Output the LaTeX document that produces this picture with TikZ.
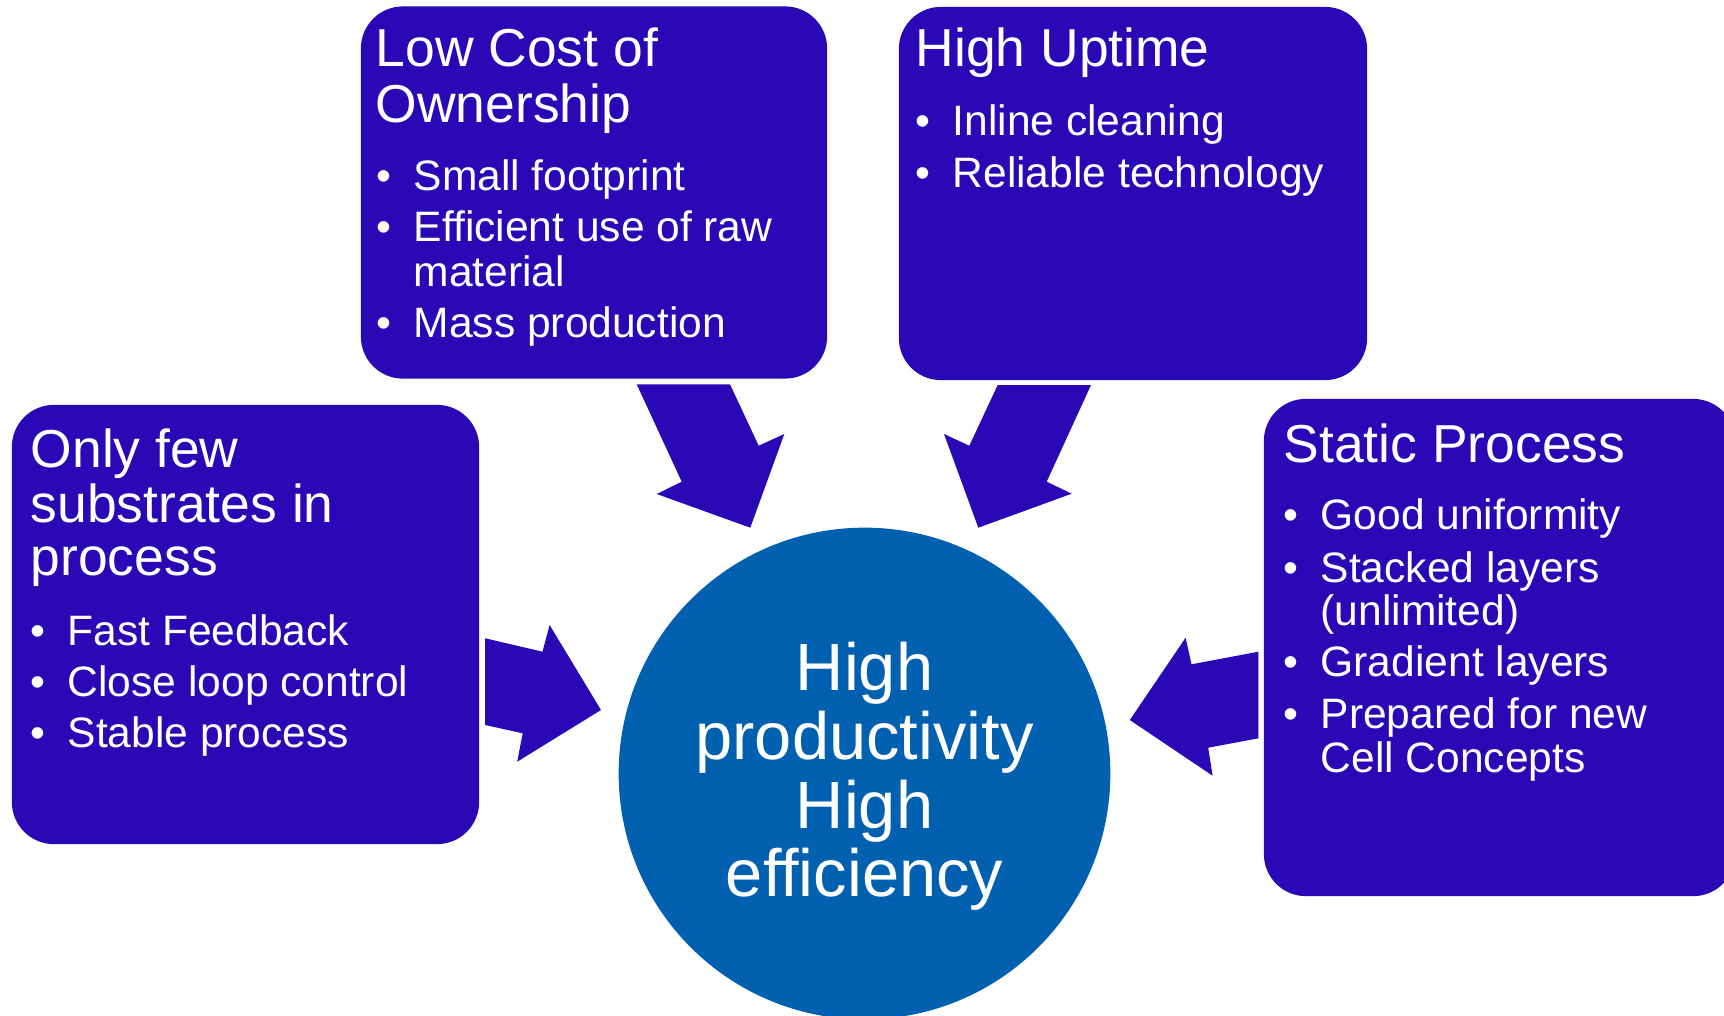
\documentclass[tikz,border=0pt]{standalone}
\usepackage{fontspec}
\setmainfont{Liberation Sans}
\definecolor{boxblue}{RGB}{41,8,182}
\definecolor{hubblue}{RGB}{2,96,176}
\newcommand{\bul}{\llap{\textbullet\hspace{0.22cm}}}
\tikzset{
  box/.style={fill=boxblue, rounded corners=0.42cm, inner sep=0pt},
  ttl/.style={text=white, font=\fontsize{15.2}{18}\selectfont, anchor=base west, inner sep=0pt},
  itm/.style={text=white, font=\fontsize{12.1}{14}\selectfont, anchor=base west, inner sep=0pt},
  ctr/.style={text=white, font=\fontsize{19}{23}\selectfont, anchor=base, inner sep=0pt}
}
\begin{document}
\begin{tikzpicture}[x=0.01cm,y=-0.01cm]
\useasboundingbox (0,0) rectangle (1724,1015);

% boxes
\node[box, minimum width=4.67cm, minimum height=4.39cm] (few) at (245.5,624.5) {};
\node[box, minimum width=4.66cm, minimum height=3.72cm] (cost) at (594,192.5) {};
\node[box, minimum width=4.68cm, minimum height=3.73cm] (uptime) at (1133,193.5) {};
\node[box, minimum width=4.71cm, minimum height=4.97cm] (static) at (1499.5,647.5) {};
\node[circle, fill=hubblue, inner sep=0pt, minimum size=4.914cm] (hub) at (864.5,773.5) {};

% block arrows
\fill[boxblue] (636.7,384.3) -- (730,384.3) -- (758.7,445.7) -- (784.3,434) -- (750.3,527.7) -- (656.7,494) -- (681.7,481.7) -- cycle; % cost - hub
\fill[boxblue] (1091,385) -- (997.7,385) -- (969.3,445.7) -- (944,434) -- (978.3,527.7) -- (1071.7,493.7) -- (1046.7,481.7) -- cycle; % uptime - hub
\fill[boxblue] (485.2,638.3) -- (542.5,651.7) -- (549.6,625) -- (601,710) -- (517.2,761.7) -- (522.7,733.3) -- (485.2,725) -- cycle; % few - hub
\fill[boxblue] (1258.4,651.7) -- (1191.5,664.3) -- (1185.6,637.7) -- (1129.8,720) -- (1212.6,775.7) -- (1208.2,747.7) -- (1258.4,738.3) -- cycle; % static - hub

% left box
\node[ttl] (few1) at (30,467) {Only few};
\node[ttl] (few2) at (30,522) {substrates in};
\node[ttl] (few3) at (30,575) {process};
\node[itm] (few4) at (67,645) {\bul Fast Feedback};
\node[itm] (few5) at (67,696) {\bul Close loop control};
\node[itm] (few6) at (67,747) {\bul Stable process};

% top left box
\node[ttl] (cost1) at (375,66) {Low Cost of};
\node[ttl] (cost2) at (375,122) {Ownership};
\node[itm] (cost3) at (413,190) {\bul Small footprint};
\node[itm] (cost4) at (413,241) {\bul Efficient use of raw};
\node[itm] (cost5) at (413,286) {material};
\node[itm] (cost6) at (413,337) {\bul Mass production};

% top right box
\node[ttl] (up1) at (915,67) {High Uptime};
\node[itm] (up2) at (952,135) {\bul Inline cleaning};
\node[itm] (up3) at (952,187) {\bul Reliable technology};

% right box
\node[ttl] (st1) at (1283,462) {Static Process};
\node[itm] (st2) at (1320,529) {\bul Good uniformity};
\node[itm] (st3) at (1320,582) {\bul Stacked layers};
\node[itm] (st4) at (1320,625) {(unlimited)};
\node[itm] (st5) at (1320,676) {\bul Gradient layers};
\node[itm] (st6) at (1320,728) {\bul Prepared for new};
\node[itm] (st7) at (1320,772) {Cell Concepts};

% circle
\node[ctr] (hub1) at (864.5,690) {High};
\node[ctr] (hub2) at (864.5,759) {productivity};
\node[ctr] (hub3) at (864.5,828) {High};
\node[ctr] (hub4) at (864.5,896) {efficiency};

\end{tikzpicture}
\end{document}
